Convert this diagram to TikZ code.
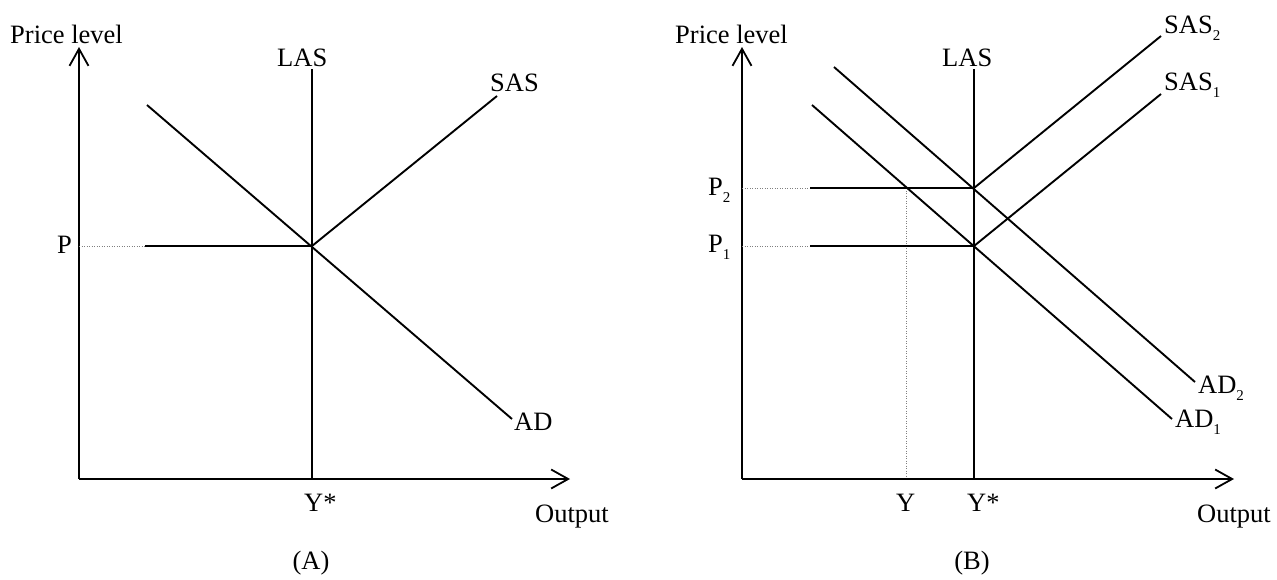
\documentclass[tikz,border=0pt]{standalone}
\usepackage{fontspec}
\setmainfont{Liberation Serif}
\usetikzlibrary{arrows.meta}
\newcommand{\mysub}[1]{\raisebox{-7pt}{\fontsize{15}{15}\selectfont #1}}
\begin{document}
\begin{tikzpicture}[x=1pt,y=-1pt,
  axis/.style={line width=2.2pt, -{Straight Barb[length=17pt,width=19pt,line width=1.8pt]}},
  curve/.style={line width=1.9pt},
  guide/.style={line width=1pt, gray, dash pattern=on 1pt off 1.5pt},
  lbl/.style={inner sep=0pt, font=\fontsize{26.5}{30}\selectfont}]
\useasboundingbox (0,0) rectangle (1277,579);

% ---------------- Panel A ----------------
\coordinate (OA) at (79,479);
\coordinate (yA) at (79,47);
\coordinate (xA) at (570,479);
\coordinate (lasAt) at (312,69);
\coordinate (lasAb) at (312,479);
\coordinate (EA) at (312,246);
\coordinate (sasA) at (497,96);
\coordinate (adAs) at (147,105);
\coordinate (adAe) at (512,419);
\coordinate (pA0) at (79,246);
\coordinate (pA1) at (145,246);

\draw[axis] (OA) -- (yA);
\draw[axis] (OA) -- (xA);
\draw[curve] (lasAt) -- (lasAb);
\draw[curve] (EA) -- (sasA);
\draw[curve] (adAs) -- (adAe);
\draw[guide] (pA0) -- (pA1);
\draw[curve] (pA1) -- (EA);

\node[lbl, anchor=base west] (plA) at (10,43) {Price level};
\node[lbl, anchor=base west] (lasAl) at (277,66) {LAS};
\node[lbl, anchor=base west] (sasAl) at (490,91) {SAS};
\node[lbl, anchor=base west] (adAl) at (514,430) {AD};
\node[lbl, anchor=base west] (pAl) at (57,253) {P};
\node[lbl, anchor=base west] (ysA) at (304,511) {Y*};
\node[lbl, anchor=base west] (outA) at (535,522) {Output};
\node[lbl, anchor=base] (capA) at (311,569) {(A)};

% ---------------- Panel B ----------------
\coordinate (OB) at (742,479);
\coordinate (yB) at (742,47);
\coordinate (xB) at (1234,479);
\coordinate (lasBt) at (974,69);
\coordinate (lasBb) at (974,479);
\coordinate (E1) at (974,246);
\coordinate (E2) at (974,188);
\coordinate (sas1) at (1161,94);
\coordinate (sas2) at (1161,36);
\coordinate (ad1s) at (812,105);
\coordinate (ad1e) at (1172,419);
\coordinate (ad2s) at (834,67);
\coordinate (ad2e) at (1195,382);
\coordinate (p20) at (742,188);
\coordinate (p21) at (810,188);
\coordinate (p10) at (742,246);
\coordinate (p11) at (810,246);
\coordinate (yt) at (906,188);
\coordinate (yb) at (906,479);

\draw[guide] (yt) -- (yb);
\draw[axis] (OB) -- (yB);
\draw[axis] (OB) -- (xB);
\draw[curve] (lasBt) -- (lasBb);
\draw[curve] (E1) -- (sas1);
\draw[curve] (E2) -- (sas2);
\draw[curve] (ad1s) -- (ad1e);
\draw[curve] (ad2s) -- (ad2e);
\draw[guide] (p20) -- (p21);
\draw[curve] (p21) -- (E2);
\draw[guide] (p10) -- (p11);
\draw[curve] (p11) -- (E1);

\node[lbl, anchor=base west] (plB) at (675,43) {Price level};
\node[lbl, anchor=base west] (lasBl) at (942,66) {LAS};
\node[lbl, anchor=base west] (sas2l) at (1164,33) {SAS\mysub{2}};
\node[lbl, anchor=base west] (sas1l) at (1164,90) {SAS\mysub{1}};
\node[lbl, anchor=base west] (ad2l) at (1198,393) {AD\mysub{2}};
\node[lbl, anchor=base west] (ad1l) at (1175,427) {AD\mysub{1}};
\node[lbl, anchor=base west] (p2l) at (708,195) {P\mysub{2}};
\node[lbl, anchor=base west] (p1l) at (708,252) {P\mysub{1}};
\node[lbl, anchor=base west] (yl) at (896,511) {Y};
\node[lbl, anchor=base west] (ysB) at (967,511) {Y*};
\node[lbl, anchor=base west] (outB) at (1197,522) {Output};
\node[lbl, anchor=base] (capB) at (972,569) {(B)};
\end{tikzpicture}
\end{document}
